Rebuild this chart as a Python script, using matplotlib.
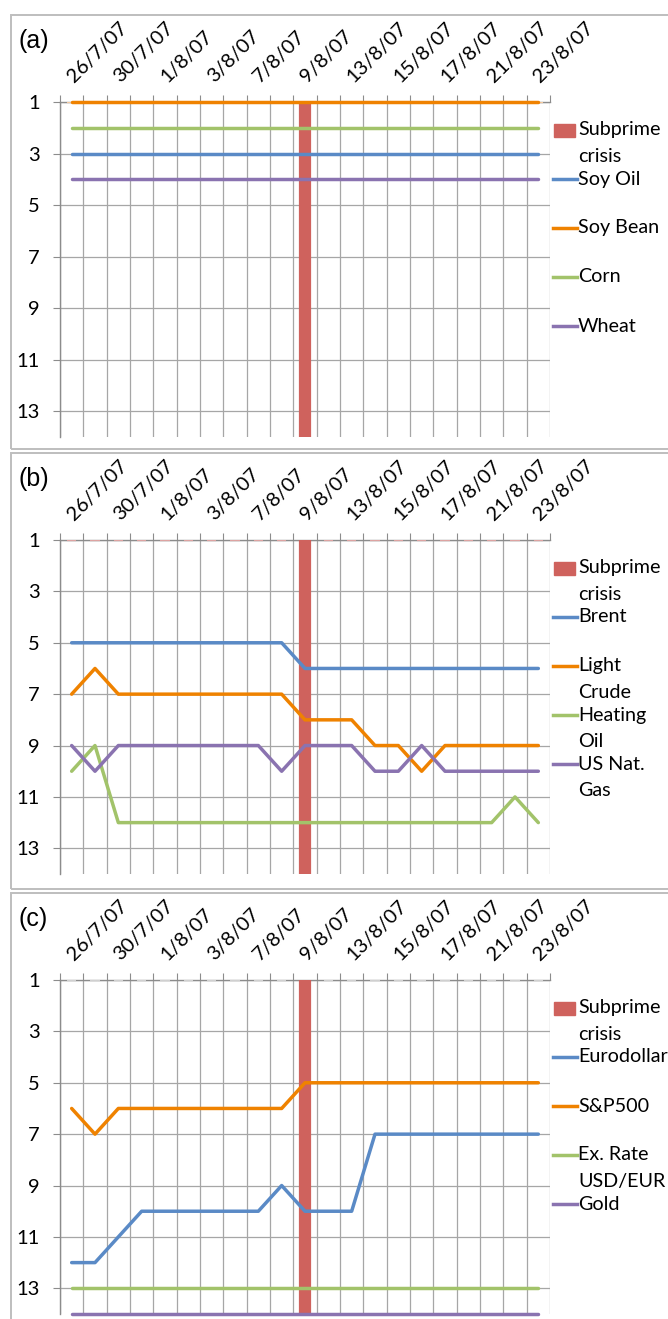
import matplotlib.pyplot as plt
import numpy as np
from matplotlib.lines import Line2D
from matplotlib.patches import Rectangle

plt.rcParams['font.family'] = ['Lato', 'DejaVu Sans']

# trading days on the category axis
dates = ['26/7/07', '27/7/07', '30/7/07', '31/7/07', '1/8/07', '2/8/07', '3/8/07',
         '6/8/07', '7/8/07', '8/8/07', '9/8/07', '10/8/07', '13/8/07', '14/8/07',
         '15/8/07', '16/8/07', '17/8/07', '20/8/07', '21/8/07', '22/8/07', '23/8/07']
# subprime crisis column (rank reached by the bar, 0 = no bar)
crisis = [0]*10 + [14] + [0]*10

# (a) agricultural
soy_oil = [3]*21
soy_bean = [1]*21
corn = [2]*21
wheat = [4]*21

# (b) energy
brent = [5]*10 + [6]*11
light_crude = [7, 6, 7, 7, 7, 7, 7, 7, 7, 7, 8, 8, 8, 9, 9, 10, 9, 9, 9, 9, 9]
heating_oil = [10, 9] + [12]*17 + [11, 12]
us_gas = [9, 10, 9, 9, 9, 9, 9, 9, 9, 10, 9, 9, 9, 10, 10, 9, 10, 10, 10, 10, 10]

# (c) financial
eurodollar = [12, 12, 11, 10, 10, 10, 10, 10, 10, 9, 10, 10, 10, 7, 7, 7, 7, 7, 7, 7, 7]
sp500 = [6, 7] + [6]*8 + [5]*11
ex_rate = [13]*21
gold = [14]*21

BLUE = '#5A8AC6'
ORANGE = '#EF8200'
GREEN = '#A2C36A'
PURPLE = '#8A73B0'
RED = '#CF625D'
GRID = '#A6A6A6'
AXIS = '#8C8C8C'
FS_TICK = 14.5
FS_LEG = 14.2

W, H = 668, 1319
fig = plt.figure(figsize=(W / 100, H / 100), dpi=100)


def fx(px):
    return px / W


def fy(py):
    return 1 - py / H


def panel(top, bottom, y1, y14, tag, names, series, colors, dash):
    # grey frame round the chart
    fig.add_artist(Rectangle((fx(10.5), fy(bottom)), fx(W + 20), (bottom - top) / H,
                             transform=fig.transFigure, fill=False, ec='#BEBEBE', lw=1.4))
    fig.text(fx(18), fy(top + 26), tag, fontsize=18, family='Liberation Sans',
             ha='left', va='center')

    ax = fig.add_axes([fx(60), fy(y14), 490 / W, (y14 - y1) / H])
    x = np.arange(len(dates))
    ax.set_xlim(-0.5, len(dates) - 0.5)
    ax.set_ylim(14, 1)

    for s in ['right', 'bottom']:
        ax.spines[s].set_visible(False)
    for s in ['top', 'left']:
        ax.spines[s].set_color(AXIS)
        ax.spines[s].set_linewidth(1.0)

    ax.xaxis.tick_top()
    ax.set_xticks(np.arange(-0.5, len(dates)))
    ax.set_xticklabels([])
    ax.set_xticks(x[::2] + 0.1, [dates[i] for i in x[::2]], minor=True)
    ax.tick_params(axis='x', which='major', length=5, color=AXIS, direction='out')
    ax.tick_params(axis='x', which='minor', length=0, pad=13.5, labelsize=FS_TICK)
    for lab in ax.get_xticklabels(minor=True):
        lab.set_rotation(45)
        lab.set_ha('left')
        lab.set_va('baseline')
        lab.set_rotation_mode('anchor')

    ax.set_yticks(range(1, 14, 2))
    ax.tick_params(axis='y', length=5, color=AXIS, pad=9.5, labelsize=FS_TICK)
    ax.grid(True, which='major', color=GRID, lw=0.9)
    ax.set_axisbelow(True)

    heights = np.clip(np.array(crisis) - 1, 0, None)
    edges = [RED if h > 0 else dash for h in heights]
    ax.bar(x, heights, bottom=1, width=0.4, color=RED, edgecolor=edges,
           linewidth=1.6, zorder=2.6)

    for vals, c in zip(series, colors):
        ax.plot(x, vals, color=c, lw=2.5, solid_joinstyle='round',
                solid_capstyle='round', clip_on=False, zorder=3)

    # legend, Excel style: marker beside the first line of each label
    entries = [('Subprime\ncrisis', RED, True)] + [(n, c, False) for n, c in zip(names, colors)]
    for k, (name, c, is_bar) in enumerate(entries):
        yk = y1 + 28 + 49 * k
        if is_bar:
            fig.add_artist(Rectangle((fx(554), fy(yk + 6.5)), 21 / W, 13 / H,
                                     transform=fig.transFigure, color=c))
        else:
            fig.add_artist(Line2D([fx(553), fx(577)], [fy(yk), fy(yk)], color=c, lw=2.5,
                                  transform=fig.transFigure))
        for j, part in enumerate(name.split('\n')):
            fig.text(fx(578), fy(yk + 27 * j), part, fontsize=FS_LEG, ha='left', va='center')
    return ax


panel(15, 449, 102, 437, '(a)', ['Soy Oil', 'Soy Bean', 'Corn', 'Wheat'],
      [soy_oil, soy_bean, corn, wheat], [BLUE, ORANGE, GREEN, PURPLE], '#F3C9A0')
panel(453, 889, 540, 874, '(b)', ['Brent', 'Light\nCrude', 'Heating\nOil', 'US Nat.\nGas'],
      [brent, light_crude, heating_oil, us_gas], [BLUE, ORANGE, GREEN, PURPLE], '#DDA3A1')
panel(893, 1340, 980, 1314, '(c)', ['Eurodollar', 'S&P500', 'Ex. Rate\nUSD/EUR', 'Gold'],
      [eurodollar, sp500, ex_rate, gold], [BLUE, ORANGE, GREEN, PURPLE], '#D0D0D0')

fig.savefig('out.png', dpi=100)
